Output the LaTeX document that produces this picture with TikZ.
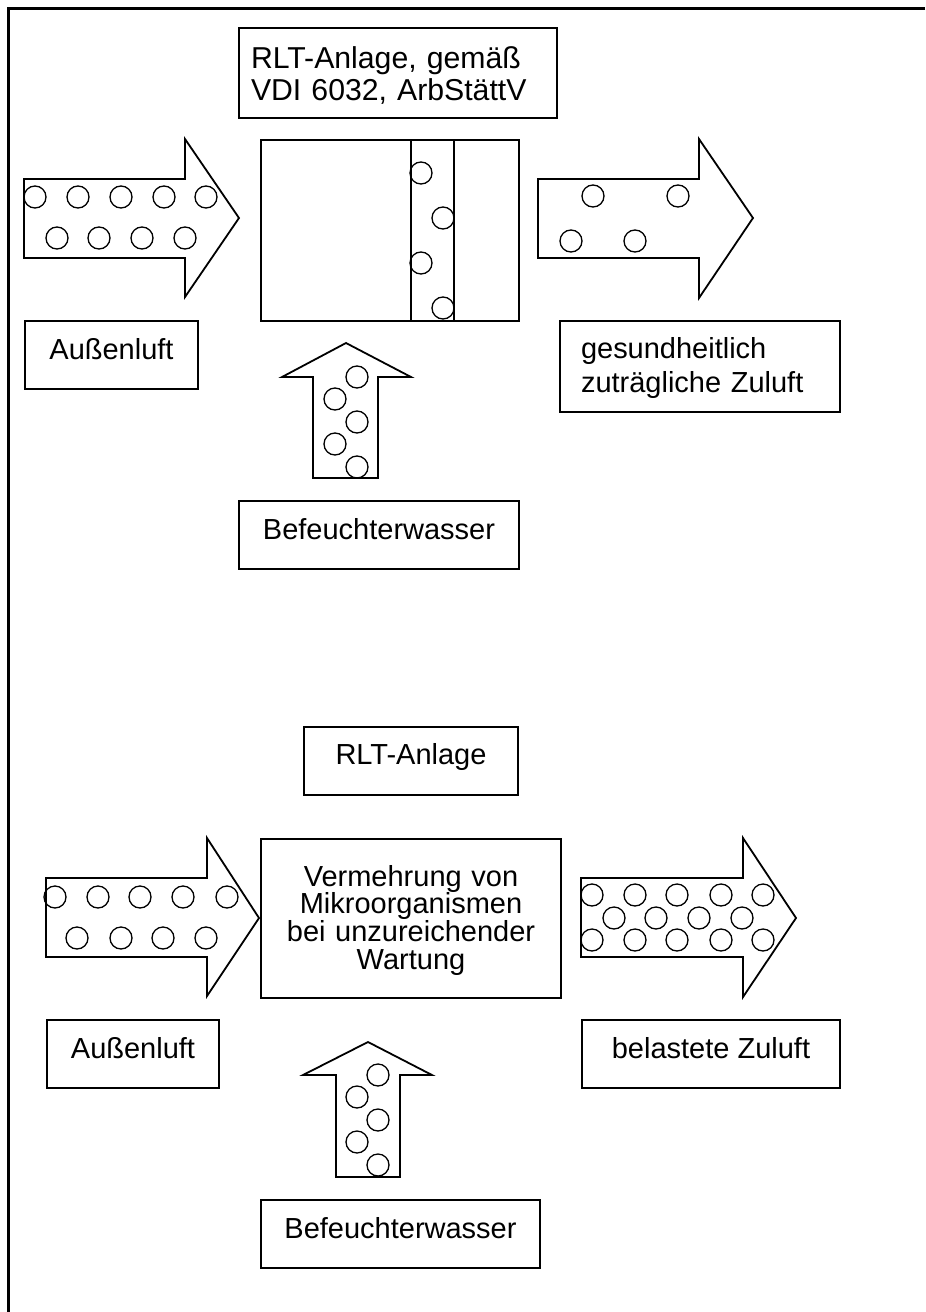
\documentclass[tikz,border=0pt]{standalone}
\usepackage{fontspec}
\setmainfont{Liberation Sans}

\begin{document}
\begin{tikzpicture}[x=0.1mm, y=-0.1mm, box/.style={draw, line width=0.2mm, inner ysep=0pt, align=center, anchor=north west, font=\fontsize{8.25pt}{9pt}\selectfont}, onerow/.style={box, text height=3.8mm, text depth=3mm}, part/.style={draw, line width=0.2mm, inner sep=0pt, anchor=north west}, flow/.style={draw, line width=0.18mm}, bubble/.style={draw, line width=0.13mm}]
        \useasboundingbox (0,0) rectangle (925,1312);
        \draw[line width=0.3mm] (925,8) -- (8.5,8) -- (8.5,1312);

        \node[box, align=left, text width=29.4mm, inner xsep=1.2mm, text height=4.1mm, text depth=4.9mm, font=\fontsize{8.6pt}{9.1pt}\selectfont] (plant) at (238,27) {RLT-Anlage, gemäß\\VDI 6032, ArbStättV};
        \node[part, minimum width=25.8mm, minimum height=18.1mm] (unit) at (260,139) {};
        \node[part, minimum width=4.3mm, minimum height=18.1mm] (filter) at (410,139) {};
        \node[onerow, minimum width=17.3mm] (outdoor) at (24,320) {Außenluft};
        \node[box, align=left, text width=23.8mm, inner xsep=2.1mm, text height=3.7mm, text depth=5.4mm, font=\fontsize{8.25pt}{9.8pt}\selectfont] (supply) at (559,320) {gesundheitlich\\zuträgliche Zuluft};
        \node[onerow, minimum width=28mm] (water) at (238,500) {Befeuchterwasser};

        \draw[flow] (24,179) -- (185,179) -- (185,139) -- (239,218) -- (185,297) -- (185,258) -- (24,258) -- cycle;
        \draw[flow] (538,179) -- (699,179) -- (699,139) -- (753,218) -- (699,298) -- (699,258) -- (538,258) -- cycle;
        \draw[flow] (313,478) -- (313,377) -- (282,377) -- (346,343) -- (411,377) -- (378,377) -- (378,478) -- cycle;
        \foreach \x/\y in {35/197, 78/197, 121/197, 164/197, 206/197, 57/238, 99/238, 142/238, 185/238, 421/173, 443/218, 421/263, 443/308, 593/196, 678/196, 571/241, 635/241, 357/377, 335/399, 357/422, 335/444, 357/467}
            \draw[bubble] (\x,\y) circle (11);

        \node[box, text height=3.7mm, text depth=3.1mm, minimum width=21.4mm] (plant2) at (303,726) {RLT-Anlage};
        \node[box, text width=28mm, inner xsep=1mm, text height=4.7mm, text depth=11.2mm, font=\fontsize{8.25pt}{7.9pt}\selectfont] (growth) at (260,838) {Vermehrung von\\Mikroorganismen\\bei unzureichender\\Wartung};
        \node[onerow, minimum width=17.2mm] (outdoor2) at (46,1019) {Außenluft};
        \node[onerow, minimum width=25.8mm] (supply2) at (581,1019) {belastete Zuluft};
        \node[onerow, minimum width=27.9mm] (water2) at (260,1199) {Befeuchterwasser};

        \draw[flow] (46,878) -- (207,878) -- (207,838) -- (259,918) -- (207,996) -- (207,957) -- (46,957) -- cycle;
        \draw[flow] (581,878) -- (743,878) -- (743,838) -- (796,918) -- (743,997) -- (743,957) -- (581,957) -- cycle;
        \draw[flow] (336,1177) -- (336,1075) -- (303,1075) -- (368,1042) -- (432,1075) -- (400,1075) -- (400,1177) -- cycle;
        \foreach \x/\y in {55/897, 98/897, 140/897, 183/897, 227/897, 77/938, 121/938, 163/938, 206/938, 592/895, 635/895, 677/895, 721/895, 763/895, 614/918, 656/918, 699/918, 742/918, 592/940, 635/940, 677/940, 721/940, 763/940, 378/1075, 357/1097, 378/1120, 357/1142, 378/1165}
            \draw[bubble] (\x,\y) circle (11);
    \end{tikzpicture}
\end{document}
